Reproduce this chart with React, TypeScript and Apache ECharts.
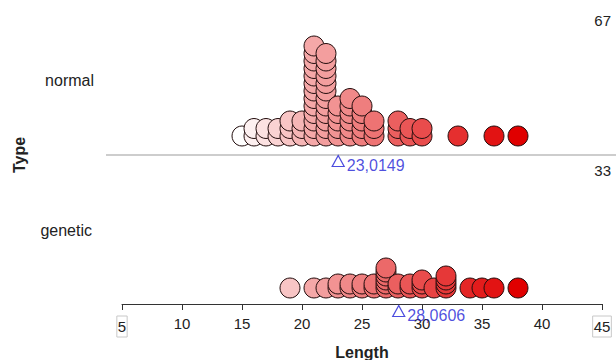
import React, { useEffect, useRef } from 'react';
import * as echarts from 'echarts';

// ---- data ----
const groupNames = ['normal', 'genetic'];
const normalValues = [15, 16, 17, 18, 19, 20, 21, 22, 23, 24, 25, 26, 28, 29, 30, 33, 36, 38];
const normalCounts = [1, 2, 2, 2, 3, 3, 13, 12, 5, 6, 5, 3, 3, 2, 2, 1, 1, 1];
const geneticValues = [19, 21, 22, 23, 24, 25, 26, 27, 28, 29, 30, 31, 32, 34, 35, 36, 38];
const geneticCounts = [1, 1, 1, 2, 2, 2, 2, 6, 2, 2, 3, 1, 4, 1, 1, 1, 1];
const xMin = 5;
const xMax = 45;
const xInterval = 5;
const boxedTicks = [5, 45];

// ---- layout (pixel-unit y axis) ----
const PLOT_H = 304;
const NORMAL_BASE = 168;
const NORMAL_STEP = 7.5;
const GENETIC_BASE = 16;
const GENETIC_STEP = 4;
const NORMAL_MEAN_Y = 143;
const GENETIC_MEAN_Y = -7;

const FONT = "'Liberation Sans', Arial, sans-serif";

function stackPoints(values: number[], counts: number[], base: number, step: number) {
  const pts: number[][] = [];
  values.forEach((v, i) => {
    for (let k = 0; k < counts[i]; k++) pts.push([v, base + k * step]);
  });
  return pts;
}

function mean(values: number[], counts: number[]) {
  let s = 0;
  let n = 0;
  values.forEach((v, i) => {
    s += v * counts[i];
    n += counts[i];
  });
  return s / n;
}

function total(counts: number[]) {
  return counts.reduce((a, b) => a + b, 0);
}

export default function App() {
  const ref = useRef<HTMLDivElement>(null);
  useEffect(() => {
    if (!ref.current) return;
    const chart = echarts.init(ref.current, null, { renderer: 'svg' });
    const normalPts = stackPoints(normalValues, normalCounts, NORMAL_BASE, NORMAL_STEP);
    const geneticPts = stackPoints(geneticValues, geneticCounts, GENETIC_BASE, GENETIC_STEP);
    const mN = mean(normalValues, normalCounts);
    const mG = mean(geneticValues, geneticCounts);
    const fmt = (m: number) => m.toFixed(4).replace('.', ',');
    const dotStyle = { borderColor: '#220d0d', borderWidth: 1, opacity: 1 };
    const meanStyle = { color: 'rgba(255,255,255,0)', borderColor: '#1f1fd6', borderWidth: 1.2 };
    const meanLabel = {
      show: true,
      position: 'right' as const,
      distance: 2,
      offset: [0, 4],
      color: '#1f1fd6',
      fontSize: 16,
      fontFamily: FONT,
      formatter: (p: any) => p.data[2],
    };

    chart.setOption({
      animation: false,
      grid: { left: 122, right: 14, top: 0, height: PLOT_H, outerBoundsMode: 'none' },
      xAxis: {
        type: 'value',
        min: xMin,
        max: xMax,
        interval: xInterval,
        splitLine: { show: false },
        axisLine: { show: true, lineStyle: { color: '#333', width: 1 } },
        axisTick: { show: true, length: 6, lineStyle: { color: '#333' } },
        axisLabel: {
          margin: 12,
          color: '#222',
          fontSize: 15,
          fontFamily: FONT,
          formatter: (v: number) => (boxedTicks.includes(v) ? `{box|${v}}` : `${v}`),
          rich: {
            box: {
              borderColor: '#c8c8c8',
              borderWidth: 1,
              padding: [3, 1, 3, 1],
              fontSize: 15,
              color: '#222',
              fontFamily: FONT,
            },
          },
        },
        name: 'Length',
        nameLocation: 'middle',
        nameGap: 40,
        nameTextStyle: { fontSize: 16, fontWeight: 'bold', color: '#222', fontFamily: FONT },
      },
      yAxis: { type: 'value', min: 0, max: PLOT_H, show: false },
      visualMap: {
        show: false,
        type: 'continuous',
        seriesIndex: [0, 1],
        dimension: 0,
        min: 15,
        max: 38,
        inRange: { color: ['#ffffff', '#f5abab', '#ed6e6e', '#e63636', '#e00000'] },
      },
      series: [
        {
          type: 'scatter',
          name: groupNames[0],
          data: normalPts,
          symbolSize: 20,
          clip: false,
          itemStyle: dotStyle,
        },
        {
          type: 'scatter',
          name: groupNames[1],
          data: geneticPts,
          symbolSize: 20,
          clip: false,
          itemStyle: dotStyle,
        },
        {
          type: 'scatter',
          data: [
            [mN, NORMAL_MEAN_Y, fmt(mN)],
            [mG, GENETIC_MEAN_Y, fmt(mG)],
          ],
          symbol: 'triangle',
          symbolSize: [12, 11],
          clip: false,
          itemStyle: meanStyle,
          label: meanLabel,
          z: 5,
        },
      ],
      graphic: [
        {
          type: 'line',
          shape: { x1: 106, y1: 155, x2: 616, y2: 155 },
          style: { stroke: '#bdbdbd', lineWidth: 1.5 },
          z: 1,
        },
        {
          type: 'text',
          x: 94,
          y: 80,
          style: { text: groupNames[0], align: 'right', verticalAlign: 'middle', fontSize: 16, fill: '#222', fontFamily: FONT },
        },
        {
          type: 'text',
          x: 92,
          y: 230,
          style: { text: groupNames[1], align: 'right', verticalAlign: 'middle', fontSize: 16, fill: '#222', fontFamily: FONT },
        },
        {
          type: 'text',
          x: 19,
          y: 155,
          rotation: Math.PI / 2,
          style: { text: 'Type', align: 'center', verticalAlign: 'middle', fontSize: 16, fontWeight: 'bold', fill: '#222', fontFamily: FONT },
        },
        {
          type: 'text',
          x: 611,
          y: 20,
          style: { text: String(total(normalCounts)), align: 'right', verticalAlign: 'middle', fontSize: 15, fill: '#222', fontFamily: FONT },
        },
        {
          type: 'text',
          x: 611,
          y: 170,
          style: { text: String(total(geneticCounts)), align: 'right', verticalAlign: 'middle', fontSize: 15, fill: '#222', fontFamily: FONT },
        },
      ],
    });
    return () => chart.dispose();
  }, []);
  return <div ref={ref} style={{ position: 'absolute', left: 0, top: 0, width: 616, height: 360 }} />;
}
